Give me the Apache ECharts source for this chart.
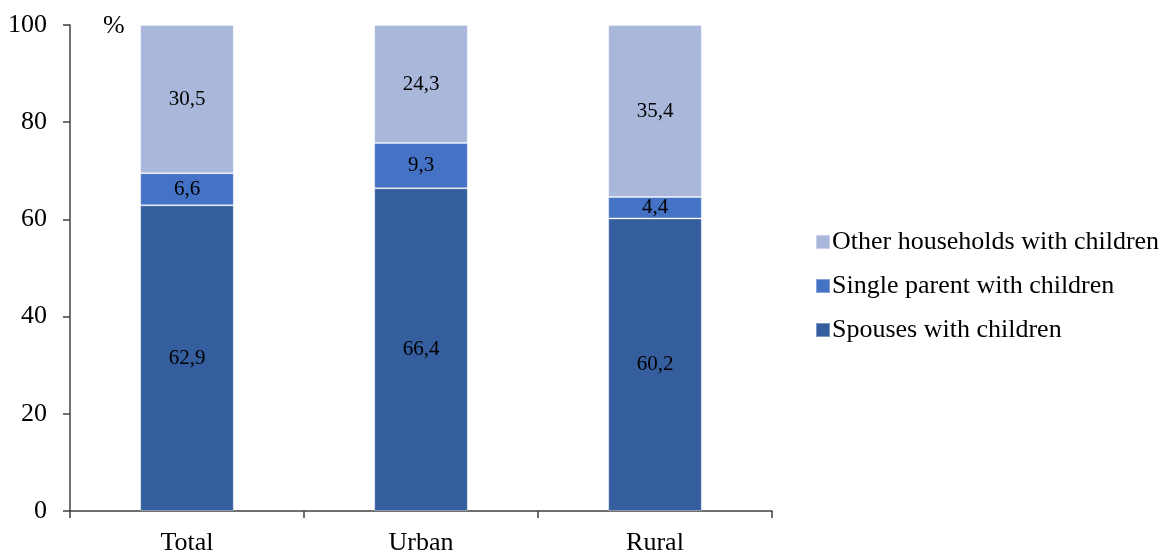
<!DOCTYPE html>
<html><head><meta charset="utf-8">
<script src="https://cdn.jsdelivr.net/npm/echarts@6/dist/echarts.min.js"></script>
<style>html,body{margin:0;padding:0;background:#fff}#c{width:1172px;height:552px}</style>
</head><body><div id="c"></div>
<script>
const categories = ['Total', 'Urban', 'Rural'];
const spouses = [62.9, 66.4, 60.2];
const single = [6.6, 9.3, 4.4];
const other = [30.5, 24.3, 35.4];
const yTicks = [0, 20, 40, 60, 80, 100];

const font = 'Liberation Serif';
const lbl = {show: true, position: 'inside', color: '#000', fontFamily: font, fontSize: 21,
  formatter: p => String(p.value).replace('.', ',')};
const chart = echarts.init(document.getElementById('c'));
chart.setOption({
  animation: false,
  textStyle: {fontFamily: font},
  title: {text: '%', left: 98, top: 8, textStyle: {fontFamily: font, fontSize: 26, fontWeight: 'normal', color: '#000'}},
  grid: {left: 70, right: 400, top: 25, bottom: 41, containLabel: false, outerBoundsMode: 'none'},
  legend: {
    orient: 'vertical', left: 810, top: 224, padding: 5, itemWidth: 14, itemHeight: 14, itemGap: 18,
    icon: 'rect', data: ['Other households with children', 'Single parent with children', 'Spouses with children'],
    textStyle: {fontFamily: font, fontSize: 26, color: '#000', padding: [0,0,0,-3]}
  },
  xAxis: {
    type: 'category', data: categories,
    axisLine: {lineStyle: {color: '#404040', width: 1.5}},
    axisTick: {show: true, length: 7, lineStyle: {color: '#404040', width: 1.5}},
    axisLabel: {color: '#000', fontFamily: font, fontSize: 26, margin: 19}
  },
  yAxis: {
    type: 'value', min: yTicks[0], max: yTicks[yTicks.length-1], interval: 20,
    splitLine: {show: false},
    axisLine: {show: true, lineStyle: {color: '#404040', width: 1.5}},
    axisTick: {show: true, length: 7, inside: false, lineStyle: {color: '#404040', width: 1.5}},
    axisLabel: {color: '#000', fontFamily: font, fontSize: 26, margin: 23}
  },
  series: [
    {name: 'Spouses with children', type: 'bar', stack: 's', data: spouses, barWidth: '40%',
      itemStyle: {color: '#355E9F', borderColor: 'rgba(255,255,255,0.35)', borderWidth: 1}, label: lbl},
    {name: 'Single parent with children', type: 'bar', stack: 's', data: single,
      itemStyle: {color: '#4472C4', borderColor: 'rgba(255,255,255,0.35)', borderWidth: 1}, label: lbl},
    {name: 'Other households with children', type: 'bar', stack: 's', data: other,
      itemStyle: {color: '#A9B7DB', borderColor: 'rgba(255,255,255,0.35)', borderWidth: 1}, label: lbl}
  ]
});
</script></body></html>
